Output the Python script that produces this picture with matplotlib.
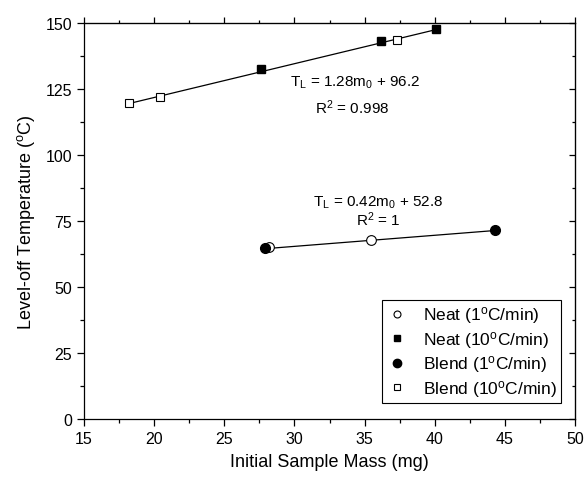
import matplotlib
matplotlib.use('Agg')
import matplotlib.pyplot as plt
import numpy as np
from matplotlib.ticker import MultipleLocator

plt.rcParams['font.family'] = ['Liberation Sans', 'DejaVu Sans']
plt.rcParams['mathtext.fontset'] = 'custom'
plt.rcParams['mathtext.rm'] = 'Liberation Sans'
plt.rcParams['mathtext.it'] = 'Liberation Sans'

# initial sample mass (mg) and level-off temperature (C)
neat_1_mass = [28.2, 35.45]
neat_1_temp = [65.0, 67.7]
neat_10_mass = [27.6, 36.2, 40.1]
neat_10_temp = [132.6, 143.1, 147.7]
blend_1_mass = [27.9, 44.3]
blend_1_temp = [64.6, 71.5]
blend_10_mass = [18.2, 20.4, 37.3]
blend_10_temp = [119.6, 121.9, 143.4]

# linear fits T_L = a*m0 + b
fit_10 = (1.28, 96.2, 0.998)
fit_1 = (0.42, 52.8, 1)

fig = plt.figure(figsize=(5.85, 4.81), dpi=100)
ax = fig.add_axes([0.1436, 0.1268, 0.8393, 0.8232])

# fit lines
m = np.array([min(blend_10_mass), max(neat_10_mass)])
ax.plot(m, fit_10[0] * m + fit_10[1], color='black', lw=0.9, zorder=1)
m = np.array([min(blend_1_mass), max(blend_1_mass)])
ax.plot(m, fit_1[0] * m + fit_1[1], color='black', lw=0.9, zorder=1)

ax.plot(blend_1_mass, blend_1_temp, 'o', ms=7, mfc='black', mec='black', ls='none', zorder=3)
ax.plot(neat_1_mass, neat_1_temp, 'o', ms=7, mfc='white', mec='black', mew=0.8, ls='none', zorder=2)
ax.plot(neat_10_mass, neat_10_temp, 's', ms=6, mfc='black', mec='black', ls='none', zorder=3)
ax.plot(blend_10_mass, blend_10_temp, 's', ms=6, mfc='white', mec='black', mew=0.8, ls='none', zorder=3)

# legend entries with smaller markers
h1, = ax.plot([], [], 'o', ms=5, mfc='white', mec='black', mew=0.8, ls='none')
h2, = ax.plot([], [], 's', ms=5, mfc='black', mec='black', ls='none')
h3, = ax.plot([], [], 'o', ms=6, mfc='black', mec='black', ls='none')
h4, = ax.plot([], [], 's', ms=5, mfc='white', mec='black', mew=0.8, ls='none')
leg = ax.legend([h1, h2, h3, h4],
                ['Neat (1$^{\\rm o}$C/min)', 'Neat (10$^{\\rm o}$C/min)',
                 'Blend (1$^{\\rm o}$C/min)', 'Blend (10$^{\\rm o}$C/min)'],
                loc='lower right', bbox_to_anchor=(0.99, 0.018), fontsize=12.5,
                frameon=True, fancybox=False, edgecolor='black', framealpha=1,
                handlelength=1.2, handletextpad=0.9, borderpad=0.25, labelspacing=0.2)
leg.get_frame().set_linewidth(0.8)

ax.text(34.3, 127.7, 'T$_{\\rm L}$ = %.2fm$_{\\rm 0}$ + %.1f' % (fit_10[0], fit_10[1]),
        ha='center', va='center', fontsize=11)
ax.text(34.1, 118.2, 'R$^{\\rm 2}$ = %.3f' % fit_10[2], ha='center', va='center', fontsize=11)
ax.text(36.0, 82.2, 'T$_{\\rm L}$ = %.2fm$_{\\rm 0}$ + %.1f' % (fit_1[0], fit_1[1]),
        ha='center', va='center', fontsize=11)
ax.text(36.0, 75.8, 'R$^{\\rm 2}$ = %d' % fit_1[2], ha='center', va='center', fontsize=11)

ax.set_xlim(15, 50)
ax.set_ylim(0, 150)
ax.xaxis.set_major_locator(MultipleLocator(5))
ax.xaxis.set_minor_locator(MultipleLocator(2.5))
ax.yaxis.set_major_locator(MultipleLocator(25))
ax.yaxis.set_minor_locator(MultipleLocator(12.5))
ax.tick_params(which='major', direction='out', length=5, width=0.9, labelsize=11.5)
ax.tick_params(which='minor', direction='out', length=3, width=0.9)
for s in ax.spines.values():
    s.set_linewidth(0.9)

# mirrored ticks on top and right
top = ax.secondary_xaxis('top')
top.xaxis.set_major_locator(MultipleLocator(5))
top.xaxis.set_minor_locator(MultipleLocator(2.5))
top.tick_params(which='major', direction='out', length=4, width=0.9, labeltop=False)
top.tick_params(which='minor', direction='out', length=2.5, width=0.9)
right = ax.secondary_yaxis('right')
right.yaxis.set_major_locator(MultipleLocator(25))
right.yaxis.set_minor_locator(MultipleLocator(12.5))
right.tick_params(which='major', direction='in', length=4, width=0.9, labelright=False)
right.tick_params(which='minor', direction='in', length=2.5, width=0.9)

ax.set_xlabel('Initial Sample Mass (mg)', fontsize=13, labelpad=5)
ax.set_ylabel('Level-off Temperature ($^{\\rm o}$C)', fontsize=13, labelpad=6)

fig.savefig('out.png', dpi=100)
